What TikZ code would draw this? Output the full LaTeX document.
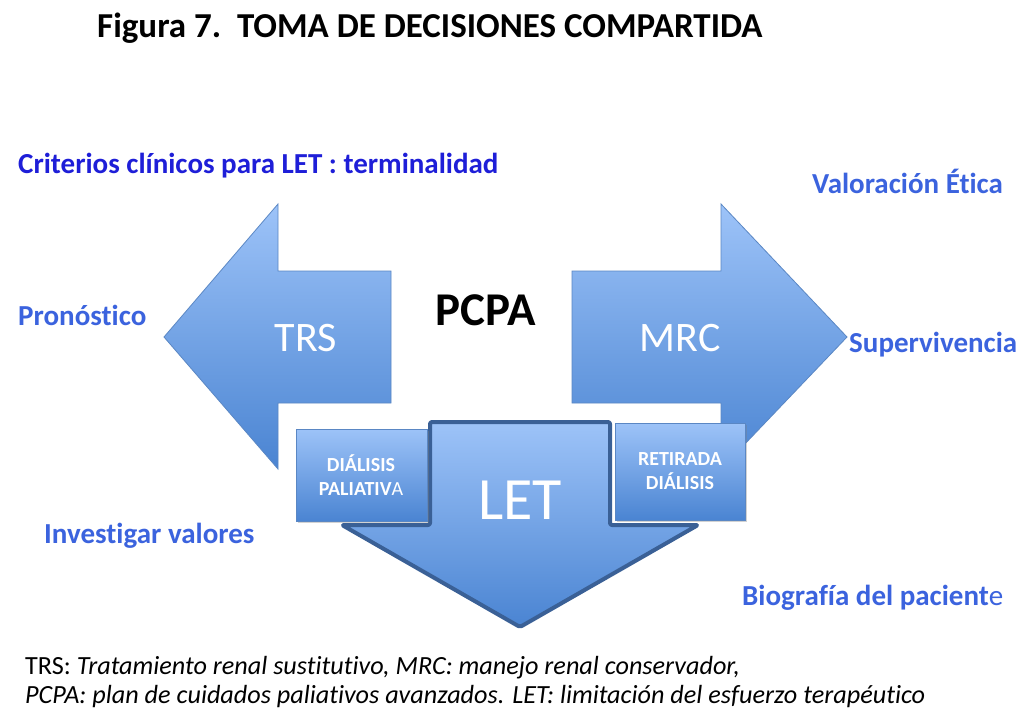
\documentclass[tikz,border=0pt]{standalone}
\usepackage{fontspec}
\setmainfont{Carlito}[Ligatures={NoCommon}]
\usetikzlibrary{shadows}
\definecolor{lblue}{HTML}{9DC3F8}
\definecolor{dblue}{HTML}{4A84D2}
\definecolor{edgeb}{HTML}{5A87C4}
\definecolor{letedge}{HTML}{3A6096}
\definecolor{txtA}{HTML}{1E1ED8}
\definecolor{txtB}{HTML}{3B63DE}
\begin{document}
\begin{tikzpicture}[x=1pt,y=-1pt,
  arrowshape/.style={draw=edgeb, line width=0.8pt, top color=lblue, bottom color=dblue},
  letshape/.style={draw=letedge, line width=4pt, rounded corners=2pt, line join=round, top color=lblue, bottom color=dblue},
  boxshape/.style={draw=edgeb, line width=0.8pt, top color=lblue, bottom color=dblue,
     drop shadow={opacity=0.35, shadow xshift=1.5pt, shadow yshift=-2pt}},
  bigtxt/.style={text=white, inner sep=0pt, font=\fontsize{42}{46}\selectfont},
  boxtxt/.style={text=white, inner sep=0pt, align=center, font=\bfseries\fontsize{20}{23.5}\selectfont},
  sidetxt/.style={text=txtB, inner sep=0pt, anchor=west, font=\bfseries\fontsize{29}{32}\selectfont},
  foot/.style={inner sep=0pt, anchor=west, font=\fontsize{26.2}{29}\selectfont}]
\useasboundingbox[fill=white] (0,0) rectangle (1025,723);

% left arrow TRS
\path[arrowshape] (164,337) -- (278,204) -- (278,271) -- (391,271) -- (391,403) -- (278,403) -- (278,469) -- cycle;
% right arrow MRC
\path[arrowshape] (847,337) -- (721,204) -- (721,271) -- (572,271) -- (572,403) -- (721,403) -- (721,469) -- cycle;
% down arrow LET
\path[letshape] (430,422) -- (610,422) -- (610,525) -- (698,525) -- (520,627) -- (342,525) -- (430,525) -- cycle;

% boxes
\path[boxshape] (296,429) rectangle (427,521);
\path[boxshape] (615,423) rectangle (745,520);

\node[bigtxt] (trs) at (306,338) {TRS};
\node[bigtxt] (mrc) at (680,338) {MRC};
\node[bigtxt, font=\fontsize{60}{64}\selectfont] (let) at (520,500) {LET};
\node[boxtxt] (dp) at (361,475) {DIÁLISIS\\PALIATIV\textmd{A}};
\node[boxtxt] (rd) at (680,471) {RETIRADA\\DIÁLISIS};

\node[inner sep=0pt, font=\bfseries\fontsize{47}{51}\selectfont] (pcpa) at (486,310) {PCPA};

\node[inner sep=0pt, anchor=west, font=\bfseries\fontsize{35}{39}\selectfont] (title) at (97,28) {Figura 7.\ \ TOMA DE DECISIONES COMPARTIDA};

\node[sidetxt, text=txtA] (crit) at (18,166) {Criterios clínicos para LET : terminalidad};
\node[sidetxt] (val) at (812,181) {Valoración Ética};
\node[sidetxt] (pron) at (18,315) {Pronóstico};
\node[sidetxt] (sup) at (849,345) {Supervivencia};
\node[sidetxt] (inv) at (44,536) {Investigar valores};
\node[sidetxt] (bio) at (742,598) {Biografía del pacient\textmd{e}};

\node[foot] (f1) at (25,668) {TRS: \textit{Tratamiento renal sustitutivo, MRC: manejo renal conservador,}};
\node[foot] (f2) at (25,697) {\textit{PCPA: plan de cuidados paliativos avanzados. LET: limitación del esfuerzo terapéutico}};
\end{tikzpicture}
\end{document}
